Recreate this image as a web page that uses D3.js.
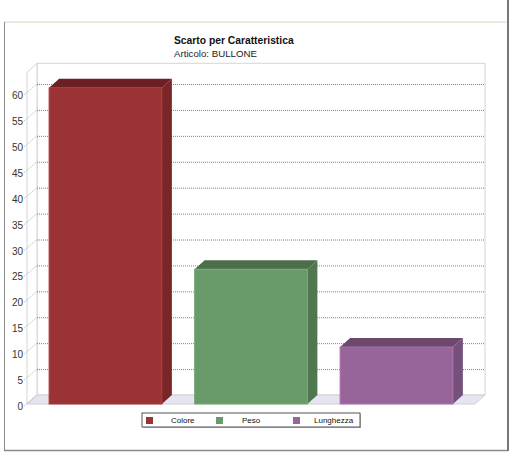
<!DOCTYPE html>
<html>
<head>
<meta charset="utf-8">
<script src="https://cdn.jsdelivr.net/npm/d3@7"></script>
<style>
  body { margin:0; background:#fff; }
  svg { display:block; font-family:"Liberation Sans", Arial, sans-serif; }
</style>
</head>
<body>
<div id="chartWrapper"></div>
<script>
//data
const categories = ['Colore', 'Peso', 'Lunghezza'];
const values = [61, 26, 11];
const yTicks = [0, 5, 10, 15, 20, 25, 30, 35, 40, 45, 50, 55, 60];
const titleText = 'Scarto per Caratteristica';
const subtitleText = 'Articolo: BULLONE';

//colours per bar: front, top, side
const FRONT = ['#9b3234', '#6a9a6a', '#98659a'];
const TOP = ['#6c2024', '#4b6e4b', '#6c4a6d'];
const SIDE = ['#7a2629', '#507850', '#74507a'];

const C = {
    WIDTH:514,
    HEIGHT:457,
    LEFT:27,        //front left edge of the plot
    RIGHT:475,      //front right edge of the plot
    BASE:404,       //front baseline
    DX:10,          //3d depth x
    DY:9,           //3d depth y
    YMAX:64
};

const svg = d3.select('#chartWrapper')
    .append('svg')
    .attr('width', C.WIDTH)
    .attr('height', C.HEIGHT);

//outer frame
svg.append('line').attr('x1',4).attr('y1',22).attr('x2',507).attr('y2',22)
    .attr('stroke','#e4e4d4').attr('stroke-width',1.5);
svg.append('line').attr('x1',4.5).attr('y1',22).attr('x2',4.5).attr('y2',450)
    .attr('stroke','#8a8a8a');
svg.append('line').attr('x1',4).attr('y1',450.5).attr('x2',508).attr('y2',450.5)
    .attr('stroke','#8a8a8a').attr('stroke-width',1.5);
svg.append('line').attr('x1',508).attr('y1',0).attr('x2',508).attr('y2',451)
    .attr('stroke','#777').attr('stroke-width',2);

//titles
svg.append('text').attr('x',174).attr('y',44)
    .style('font-size','10.3px').style('font-weight','bold').attr('fill','#111')
    .text(titleText);
svg.append('text').attr('x',174).attr('y',57)
    .style('font-size','9.7px').attr('fill','#222')
    .text(subtitleText);

//scales
const y = d3.scaleLinear().domain([0, C.YMAX]).range([C.BASE, C.BASE - C.YMAX * 5.183]);
const x = d3.scaleBand().domain(categories).range([C.LEFT, C.RIGHT])
    .paddingInner(0.225).paddingOuter(0.152);

const topF = y(C.YMAX);
const topB = topF - C.DY;

//back wall
svg.append('rect')
    .attr('x', C.LEFT + C.DX).attr('y', topB)
    .attr('width', C.RIGHT - C.LEFT).attr('height', C.BASE - C.DY - topB)
    .attr('fill','#fff').attr('stroke','#d4d4d4');

//left wall
svg.append('polygon')
    .attr('points', [[C.LEFT, C.BASE], [C.LEFT, topF], [C.LEFT + C.DX, topB], [C.LEFT + C.DX, C.BASE - C.DY]].join(' '))
    .attr('fill','#fff').attr('stroke','#d4d4d4');

//floor
svg.append('polygon')
    .attr('points', [[C.LEFT, C.BASE], [C.LEFT + C.DX, C.BASE - C.DY], [C.RIGHT + C.DX, C.BASE - C.DY], [C.RIGHT, C.BASE]].join(' '))
    .attr('fill','#e6e4ee').attr('stroke','#cfcfd8');

//grid lines on back wall
svg.append('g').selectAll('line')
    .data(yTicks.filter(d => d > 0))
    .enter().append('line')
    .attr('x1', C.LEFT + C.DX).attr('x2', C.RIGHT + C.DX)
    .attr('y1', d => y(d) - C.DY + 0.5).attr('y2', d => y(d) - C.DY + 0.5)
    .attr('stroke','#808080').attr('stroke-dasharray','1,1');

//y axis ticks (diagonal) and labels
const yAxis = svg.append('g').attr('id','y-axis');
yAxis.selectAll('line')
    .data(yTicks)
    .enter().append('line')
    .attr('x1', 24).attr('y1', d => y(d) + 2)
    .attr('x2', C.LEFT + C.DX).attr('y2', d => y(d) - C.DY)
    .attr('stroke','#b0b0b0').attr('stroke-width',0.8)
    .attr('stroke-dasharray','1.5,1');
yAxis.selectAll('text')
    .data(yTicks)
    .enter().append('text')
    .attr('x', 23).attr('y', d => y(d) + 6)
    .attr('text-anchor','end')
    .style('font-size','10px').attr('fill','#333')
    .text(d => d);

//bars
const bw = x.bandwidth();
const bars = svg.append('g').selectAll('g')
    .data(values)
    .enter().append('g');

bars.append('polygon')
    .attr('points', (d, i) => {
        let x0 = x(categories[i]), yt = y(d);
        return [[x0, yt], [x0 + C.DX, yt - C.DY], [x0 + bw + C.DX, yt - C.DY], [x0 + bw, yt]].join(' ');
    })
    .attr('fill', (d, i) => TOP[i]);

bars.append('polygon')
    .attr('points', (d, i) => {
        let x1 = x(categories[i]) + bw, yt = y(d);
        return [[x1, yt], [x1 + C.DX, yt - C.DY], [x1 + C.DX, C.BASE - C.DY], [x1, C.BASE]].join(' ');
    })
    .attr('fill', (d, i) => SIDE[i]);

bars.append('rect')
    .attr('x', (d, i) => x(categories[i]))
    .attr('y', d => y(d))
    .attr('width', bw)
    .attr('height', d => C.BASE - y(d))
    .attr('fill', (d, i) => FRONT[i])
    .attr('stroke', (d, i) => d3.color(FRONT[i]).brighter(0.3))
    .attr('stroke-width', 1);

//legend
const legend = svg.append('g').attr('id','legend');
legend.append('rect').attr('x',143).attr('y',414).attr('width',218).attr('height',14)
    .attr('fill','#b8b8b8');
legend.append('rect').attr('x',142).attr('y',413).attr('width',218).attr('height',14)
    .attr('fill','#fff').attr('stroke','#555');

const legendX = [146, 216, 293];
const legendTextX = [171, 242, 314];
legend.selectAll('rect.sw')
    .data(categories)
    .enter().append('rect')
    .attr('class','sw')
    .attr('x', (d, i) => legendX[i]).attr('y', 417)
    .attr('width', 7).attr('height', 7)
    .attr('fill', (d, i) => FRONT[i]);
legend.selectAll('text')
    .data(categories)
    .enter().append('text')
    .attr('x', (d, i) => legendTextX[i]).attr('y', 423)
    .style('font-size','8px').attr('fill','#111')
    .text(d => d);
</script>
</body>
</html>
